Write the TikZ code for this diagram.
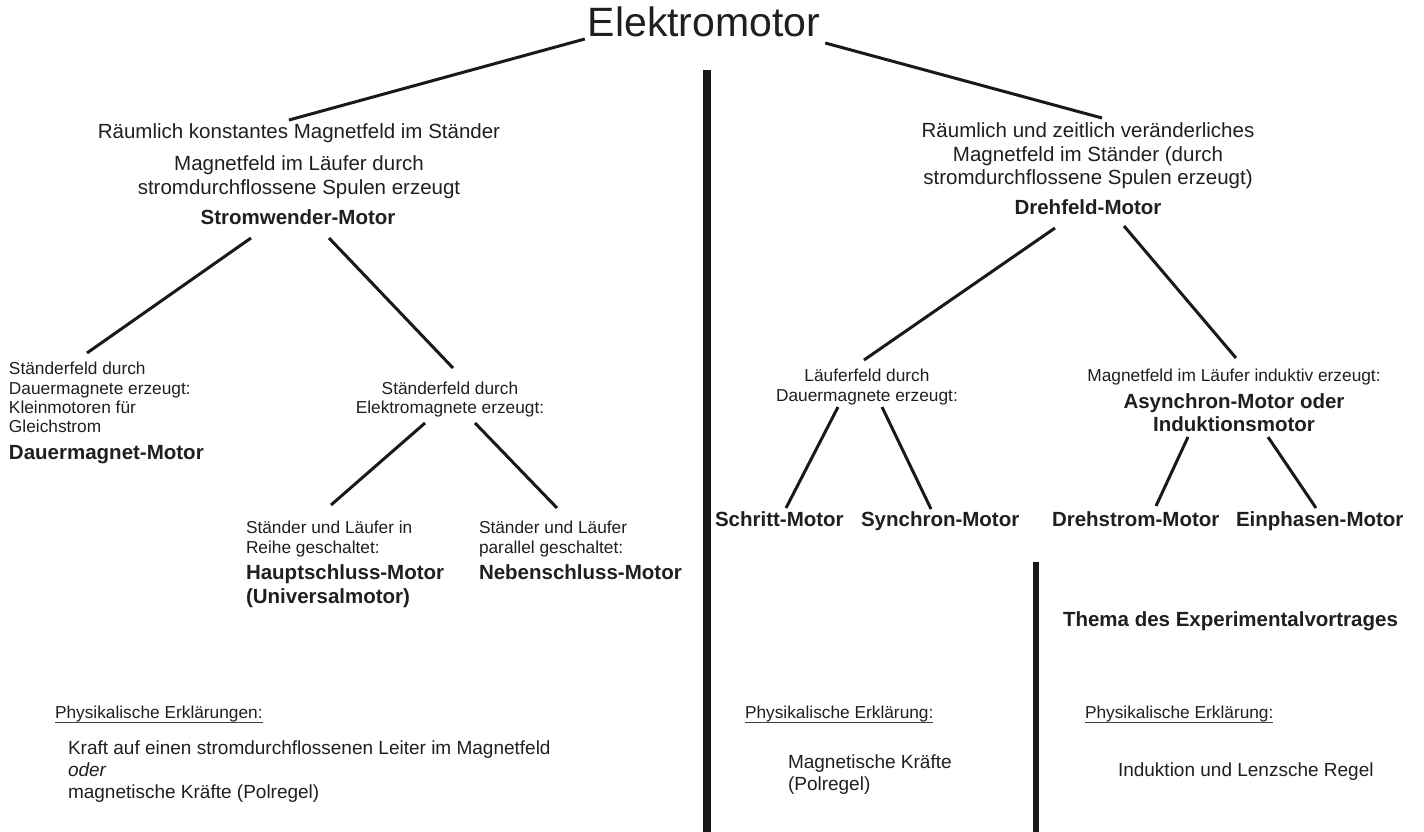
\documentclass[tikz,border=0pt]{standalone}
\usepackage{fontspec}
\setmainfont{Liberation Sans}
\usetikzlibrary{calc}
\begin{document}
\begin{tikzpicture}[x=1pt,y=-1pt,
  every node/.style={inner sep=0pt, outer sep=0pt, text=black!88},
  ttl/.style={font=\fontsize{41}{45}\selectfont, anchor=base},
  norm/.style={font=\fontsize{20.5}{23}\selectfont, anchor=base},
  bld/.style={font=\fontsize{20.5}{23}\selectfont\bfseries, anchor=base},
  bldw/.style={font=\fontsize{20.5}{23}\selectfont\bfseries, anchor=base west},
  sml/.style={font=\fontsize{17.3}{20}\selectfont, anchor=base},
  smlw/.style={font=\fontsize{17.3}{20}\selectfont, anchor=base west},
  expl/.style={font=\fontsize{19}{22}\selectfont, anchor=base west},
  conn/.style={draw=black!90, line width=3pt},
  divider/.style={draw=black!90, line width=8pt},
  divider2/.style={draw=black!90, line width=6pt},
  uline/.style={draw=black!75, line width=1pt}
]
\useasboundingbox (0,0) rectangle (1424,832);

% title
\node[ttl] (title) at (704,37) {Elektromotor};

% left main branch
\node[norm] (k1) at (299,139) {Räumlich konstantes Magnetfeld im Ständer};
\node[norm] (k2) at (299,171) {Magnetfeld im Läufer durch};
\node[norm] (k3) at (299,194) {stromdurchflossene Spulen erzeugt};
\node[bld]  (sw) at (298,224) {Stromwender-Motor};

% right main branch
\node[norm] (v1) at (1088,138) {Räumlich und zeitlich veränderliches};
\node[norm] (v2) at (1088,161) {Magnetfeld im Ständer (durch};
\node[norm] (v3) at (1088,184) {stromdurchflossene Spulen erzeugt)};
\node[bld]  (df) at (1088,214) {Drehfeld-Motor};

% Dauermagnet block
\node[smlw] (dm1) at (9,374) {Ständerfeld durch};
\node[smlw] (dm2) at (9,394) {Dauermagnete erzeugt:};
\node[smlw] (dm3) at (9,413) {Kleinmotoren für};
\node[smlw] (dm4) at (9,432) {Gleichstrom};
\node[bldw] (dmm) at (9,459) {Dauermagnet-Motor};

% Elektromagnet block
\node[sml] (em1) at (450,394) {Ständerfeld durch};
\node[sml] (em2) at (450,413) {Elektromagnete erzeugt:};

% Hauptschluss
\node[smlw] (hs1) at (246,533) {Ständer und Läufer in};
\node[smlw] (hs2) at (246,553) {Reihe geschaltet:};
\node[bldw] (hs3) at (246,579) {Hauptschluss-Motor};
\node[bldw] (hs4) at (246,603) {(Universalmotor)};

% Nebenschluss
\node[smlw] (ns1) at (479,533) {Ständer und Läufer};
\node[smlw] (ns2) at (479,553) {parallel geschaltet:};
\node[bldw] (ns3) at (479,579) {Nebenschluss-Motor};

% Läuferfeld
\node[sml] (lf1) at (867,381) {Läuferfeld durch};
\node[sml] (lf2) at (867,401) {Dauermagnete erzeugt:};

% induktiv
\node[sml] (im1) at (1234,381) {Magnetfeld im Läufer induktiv erzeugt:};
\node[bld] (as1) at (1234,408) {Asynchron-Motor oder};
\node[bld] (as2) at (1234,431) {Induktionsmotor};

% bottom motors
\node[bldw] (sch) at (715,526) {Schritt-Motor};
\node[bldw] (syn) at (861,526) {Synchron-Motor};
\node[bldw] (dre) at (1052,526) {Drehstrom-Motor};
\node[bldw] (ein) at (1236,526) {Einphasen-Motor};

% Thema
\node[bldw] (thema) at (1063,626) {Thema des Experimentalvortrages};

% explanations
\node[smlw] (p1) at (55,718) {Physikalische Erklärungen:};
\node[expl] (e1a) at (68,754) {Kraft auf einen stromdurchflossenen Leiter im Magnetfeld};
\node[expl] (e1b) at (68,776) {\itshape oder};
\node[expl] (e1c) at (68,798) {magnetische Kräfte (Polregel)};

\node[smlw] (p2) at (745,718) {Physikalische Erklärung:};
\node[expl] (e2a) at (788,768) {Magnetische Kräfte};
\node[expl] (e2b) at (788,790) {(Polregel)};

\node[smlw] (p3) at (1085,718) {Physikalische Erklärung:};
\node[expl] (e3a) at (1118,776) {Induktion und Lenzsche Regel};

% underlines
\foreach \n in {p1,p2,p3}
  \draw[uline] ($(\n.base west)+(0,4)$) -- ($(\n.base east)+(0,4)$);

% connectors
\draw[conn] ($(title.base west)+(-3,2)$) -- ($(k1.base)+(-10,-19)$);
\draw[conn] ($(title.base east)+(5,6)$) -- ($(v1.base)+(14,-20)$);
\draw[conn] ($(sw.base)+(-47,14)$) -- ($(dm1.base west)+(78,-21)$);
\draw[conn] ($(sw.base)+(31,14)$) -- ($(em1.base)+(3,-26)$);
\draw[conn] ($(em2.base)+(-25,10)$) -- ($(hs1.base west)+(85,-28)$);
\draw[conn] ($(em2.base)+(25,10)$) -- ($(ns1.base west)+(78,-25)$);
\draw[conn] ($(df.base)+(-33,14)$) -- ($(lf1.base)+(-3,-21)$);
\draw[conn] ($(df.base)+(36,12)$) -- ($(im1.base)+(2,-23)$);
\draw[conn] ($(lf2.base)+(-29,6)$) -- ($(sch.base west)+(71,-18)$);
\draw[conn] ($(lf2.base)+(15,6)$) -- ($(syn.base west)+(70,-17)$);
\draw[conn] ($(as2.base)+(-46,6)$) -- ($(dre.base west)+(104,-20)$);
\draw[conn] ($(as2.base)+(34,6)$) -- ($(ein.base west)+(80,-18)$);

% dividers
\coordinate (d1t) at (707,70);
\coordinate (d1b) at (707,832);
\coordinate (d2t) at (1036,562);
\coordinate (d2b) at (1036,832);
\draw[divider] (d1t) -- (d1b);
\draw[divider2] (d2t) -- (d2b);
\end{tikzpicture}
\end{document}
